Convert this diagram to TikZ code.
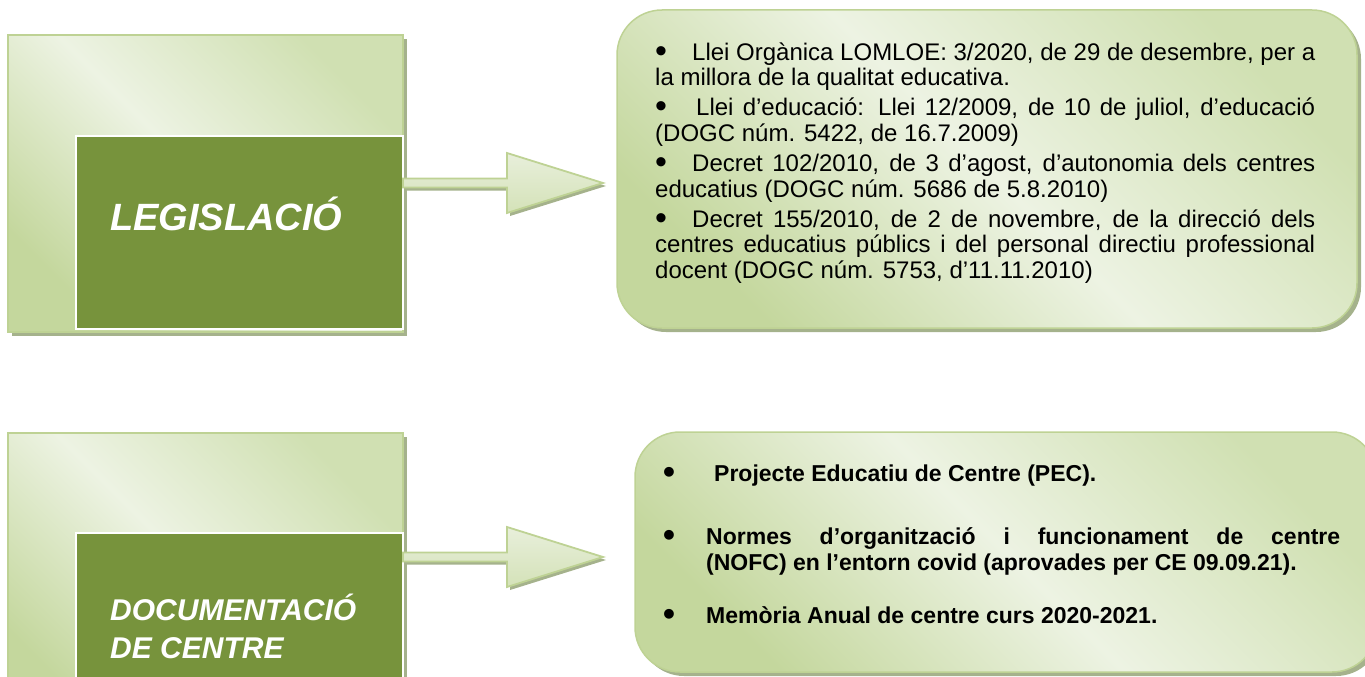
\documentclass[tikz,border=0pt]{standalone}
\usepackage{fontspec}
\setmainfont{Liberation Sans}
\usetikzlibrary{calc,shadows}
\definecolor{lightG}{RGB}{237,243,227}
\definecolor{topG}{RGB}{208,224,178}
\definecolor{botG}{RGB}{196,215,157}
\definecolor{borderG}{RGB}{190,210,148}
\definecolor{darkG}{RGB}{119,147,60}
\definecolor{shadowG}{RGB}{165,178,140}
\definecolor{arrowA}{RGB}{232,239,219}
\definecolor{arrowB}{RGB}{212,226,184}
\newcommand\bigbul{\raisebox{-2pt}{\fontsize{34}{0}\selectfont •}}
\begin{document}
\begin{tikzpicture}[x=1pt,y=-1pt,
  softshadow/.style={drop shadow={shadow xshift=4pt,shadow yshift=-4pt,fill=shadowG,opacity=1}},
  lightbox/.style={draw=borderG,line width=1.5pt,top color=topG,bottom color=botG,middle color=lightG,shading angle=-45,softshadow,inner sep=0pt,outer sep=0pt,anchor=north west},
  darkbox/.style={draw=white,line width=2pt,fill=darkG,inner sep=0pt,outer sep=0pt,anchor=north west},
  listbox/.style={lightbox,rounded corners=45pt},
  head/.style={text=white,font=\bfseries\itshape,inner sep=0pt,anchor=base west},
  listtext/.style={inner sep=0pt,anchor=base west,text=black},
  blockarrow/.style={draw=borderG,line width=1.8pt,top color=arrowA,bottom color=arrowB,drop shadow={shadow xshift=3pt,shadow yshift=-3pt,fill=shadowG,opacity=1}},
  barrow/.style 2 args={insert path={($(#1)+(0,-4.5)$) -- ($(#2)+(-96,-4.5)$) -- ($(#2)+(-96,-30)$) -- (#2) -- ($(#2)+(-96,30)$) -- ($(#2)+(-96,4.5)$) -- ($(#1)+(0,4.5)$) -- cycle}}
]
\useasboundingbox (0,0) rectangle (1365,677);

% ---------- top row ----------
\node[lightbox,minimum width=395pt,minimum height=297pt] (L1) at (8,35) {};
\node[darkbox,minimum width=327pt,minimum height=193pt] (D1) at (76,136) {};
\node[head] (T1) at (110,230) {\fontsize{38}{44}\selectfont LEGISLACIÓ};

\node[listbox,minimum width=740pt,minimum height=318pt] (R1) at (617,10) {};
\coordinate (a1s) at (403,183);
\coordinate (a1e) at (603,183);
\draw[blockarrow,barrow={a1s}{a1e}];

\node[listtext] (X1) at (655,60) {\parbox[t]{660pt}{\fontsize{24}{25.6}\selectfont\setlength{\parskip}{4.5pt}%
\makebox[37pt][l]{\bigbul}Llei Orgànica LOMLOE: 3/2020, de 29 de desembre, per a\linebreak la millora de la qualitat educativa.\par
\makebox[41pt][l]{\bigbul}Llei d’educació: Llei 12/2009, de 10 de juliol, d’educació\linebreak (DOGC núm. 5422, de 16.7.2009)\par
\makebox[37pt][l]{\bigbul}Decret 102/2010, de 3 d’agost, d’autonomia dels centres\linebreak educatius (DOGC núm. 5686 de 5.8.2010)\par
\makebox[37pt][l]{\bigbul}Decret 155/2010, de 2 de novembre, de la direcció dels\linebreak centres educatius públics i del personal directiu professional\linebreak docent (DOGC núm. 5753, d’11.11.2010)}};

% ---------- bottom row ----------
\node[lightbox,minimum width=395pt,minimum height=300pt] (L2) at (8,433) {};
\node[darkbox,minimum width=327pt,minimum height=200pt] (D2) at (76,533) {};
\node[head] (T2) at (110,620) {\parbox[t]{290pt}{\fontsize{30}{38}\selectfont\raggedright DOCUMENTACIÓ\\DE CENTRE}};

\node[listbox,minimum width=742pt,minimum height=240pt] (R2) at (635,432) {};
\coordinate (a2s) at (403,557);
\coordinate (a2e) at (603,557);
\draw[blockarrow,barrow={a2s}{a2e}];

\node[listtext] (X2) at (663,481) {\parbox[t]{677pt}{\fontsize{23}{26}\selectfont\bfseries%
\hangindent=43pt\hangafter=1 \makebox[51pt][l]{\bigbul}Projecte Educatiu de Centre (PEC).\par\vspace{37pt}
\hangindent=43pt\hangafter=1 \makebox[43pt][l]{\bigbul}Normes d’organització i funcionament de centre\linebreak (NOFC) en l’entorn covid (aprovades per CE 09.09.21).\par\vspace{27pt}
\hangindent=43pt\hangafter=1 \makebox[43pt][l]{\bigbul}Memòria Anual de centre curs 2020-2021.}};
\end{tikzpicture}
\end{document}
